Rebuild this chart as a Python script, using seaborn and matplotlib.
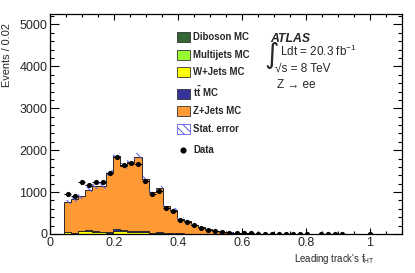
import numpy as np
import pandas as pd
import seaborn as sns
import matplotlib.pyplot as plt
from matplotlib.patches import Patch
from matplotlib.lines import Line2D
from matplotlib.ticker import MultipleLocator, FuncFormatter

# 50 bins over [0, 1.1]; first filled bin is number 2
BIN_WIDTH = 0.022
FIRST_BIN = 2

DATA = [944, 905, 1245, 1159, 1240, 1238, 1464, 1835, 1635, 1700, 1668, 1270,
        948, 1020, 631, 552, 337, 282, 210, 150, 100, 68, 48, 32, 24, 16, 12,
        10, 8, 7, 6, 5, 4, 4, 3, 0, 3, 2, 2, 2, 0, 0, 0, 1]

Z_JETS = [705, 790, 820, 955, 1060, 1095, 1410, 1740, 1545, 1655, 1765, 1255,
          965, 1055, 648, 560, 348, 296, 218, 159, 112, 75, 50, 34, 25, 17, 12,
          9, 7, 5, 4, 3, 2, 2, 1, 1, 1, 1, 1, 1, 1, 0, 0, 0]
TTBAR = [15, 10, 20, 25, 20, 15, 20, 30, 25, 25, 30, 20, 10, 10, 5, 5, 5, 3,
         2, 2, 1, 1, 1, 1, 0, 0, 0, 0, 0, 0, 0, 0, 0, 0, 0, 0, 0, 0, 0, 0, 0,
         0, 0, 0]
W_JETS = [30, 15, 50, 70, 45, 30, 25, 70, 50, 35, 40, 30, 10, 20, 5, 5, 10, 3,
          2, 2, 0, 0, 0, 0, 0, 0, 0, 0, 0, 0, 0, 0, 0, 0, 0, 0, 0, 0, 0, 0, 0,
          0, 0, 0]
MULTIJETS = [5, 5, 5, 5, 5, 5, 5, 5, 5, 5, 5, 5, 5, 5, 2, 2, 2, 1, 1, 1, 0, 0,
             0, 0, 0, 0, 0, 0, 0, 0, 0, 0, 0, 0, 0, 0, 0, 0, 0, 0, 0, 0, 0, 0]
DIBOSON = [5, 5, 5, 5, 5, 5, 5, 5, 5, 5, 5, 5, 5, 5, 5, 3, 3, 2, 2, 1, 1, 1,
           1, 1, 1, 1, 1, 1, 1, 0, 0, 0, 0, 0, 0, 0, 0, 0, 0, 0, 0, 0, 0, 0]
MC_STAT_ERR = [55, 55, 60, 60, 65, 65, 70, 80, 75, 75, 80, 65, 55, 60, 45, 40,
               30, 28, 22, 18, 14, 10, 8, 6, 5, 4, 3, 3, 2, 2, 2, 2, 1, 1, 1,
               1, 1, 1, 1, 1, 1, 0, 0, 0]

PROCESSES = {
    "Diboson MC": DIBOSON,
    "Multijets MC": MULTIJETS,
    "W+Jets MC": W_JETS,
    "t$\\bar{\\mathregular{t}}$ MC": TTBAR,
    "Z+Jets MC": Z_JETS,
}
COLORS = {
    "Diboson MC": "#336633",
    "Multijets MC": "#99ff33",
    "W+Jets MC": "#ffff00",
    "t$\\bar{\\mathregular{t}}$ MC": "#333399",
    "Z+Jets MC": "#ff9933",
}
HATCH_COLOR = "#5c5cf0"

sns.set_style("ticks")
plt.rcParams["font.family"] = ["Liberation Sans", "DejaVu Sans"]
plt.rcParams["mathtext.default"] = "regular"
plt.rcParams["hatch.linewidth"] = 0.7

n_bins = len(DATA)
bin_lo = (FIRST_BIN + np.arange(n_bins)) * BIN_WIDTH
centers = bin_lo + BIN_WIDTH / 2
edges = (FIRST_BIN + np.arange(n_bins + 1)) * BIN_WIDTH

rows = []
for name, vals in PROCESSES.items():
    for c, v in zip(centers, vals):
        rows.append({"process": name, "x": c, "events": v})
mc_df = pd.DataFrame(rows)

fig = plt.figure(figsize=(4.15, 2.73), dpi=100)
ax = fig.add_axes([0.1205, 0.1429, 0.848, 0.8058])

# seaborn puts the first hue level on top of the stack
stack_order = list(PROCESSES.keys())[::-1]
sns.histplot(data=mc_df, x="x", weights="events", hue="process",
             hue_order=stack_order, palette=COLORS, multiple="stack",
             bins=list(edges), element="step", fill=True, alpha=1,
             edgecolor="#2a2a2a", linewidth=0.7, legend=False, ax=ax)

total = np.sum([np.array(v, dtype=float) for v in PROCESSES.values()], axis=0)
err = np.array(MC_STAT_ERR, dtype=float)
ax.fill_between(edges, np.append(total - err, (total - err)[-1]),
                np.append(total + err, (total + err)[-1]), step="post",
                facecolor="none", edgecolor=HATCH_COLOR, hatch="\\\\\\\\",
                linewidth=0, zorder=3)

data = np.array(DATA, dtype=float)
has = data > 0
ax.errorbar(centers[has], data[has], xerr=BIN_WIDTH / 2, yerr=np.sqrt(data[has]),
            fmt="none", ecolor="black", elinewidth=0.8, zorder=4)
sns.scatterplot(x=centers[has], y=data[has], color="black", s=14,
                linewidth=0, ax=ax, zorder=5)

ax.set_xlim(0, 1.1)
ax.set_ylim(0, 5250)
ax.xaxis.set_major_locator(MultipleLocator(0.2))
ax.xaxis.set_minor_locator(MultipleLocator(0.05))
ax.yaxis.set_major_locator(MultipleLocator(1000))
ax.yaxis.set_minor_locator(MultipleLocator(200))
ax.xaxis.set_major_formatter(FuncFormatter(lambda v, p: f"{v:g}"))
ax.tick_params(which="both", direction="in", top=True, right=True,
               labelsize=9, width=0.8, color="black")
ax.tick_params(axis="y", which="major", length=6.5, pad=2)
ax.tick_params(axis="y", which="minor", length=3)
ax.tick_params(axis="x", which="major", length=4.5, pad=2)
ax.tick_params(axis="x", which="minor", length=2.5)
for sp in ax.spines.values():
    sp.set_linewidth(0.9)
    sp.set_color("black")

ax.set_ylabel("Events / 0.02", fontsize=7.9, loc="top")
ax.yaxis.set_label_coords(-0.108, 0.96)
ax.set_xlabel("Leading track's f$_{HT}$", fontsize=6.9, loc="right")
ax.xaxis.set_label_coords(0.923, -0.08)

handles = [Patch(facecolor=COLORS[name], edgecolor="#333333", linewidth=0.6,
                 label=name) for name in PROCESSES]
handles.append(Patch(facecolor="white", edgecolor=HATCH_COLOR, hatch="\\\\\\\\",
                     linewidth=0.6, label="Stat. error"))
leg = ax.legend(handles=handles, loc="upper left", bbox_to_anchor=(0.36, 0.918),
                frameon=False, borderpad=0, borderaxespad=0,
                handlelength=1.35, handleheight=1.24, handletextpad=0.35,
                labelspacing=0.76, prop={"weight": "bold", "size": 6.9})
ax.add_artist(leg)
ax.legend(handles=[Line2D([], [], marker="o", color="black", ls="none",
                          markersize=3.4, label="Data")],
          loc="upper left", bbox_to_anchor=(0.36, 0.405), frameon=False,
          borderpad=0, borderaxespad=0, handlelength=1.35,
          handletextpad=0.35, prop={"weight": "bold", "size": 6.9})

fig.text(270 / 415, 1 - 42 / 273, "ATLAS", fontsize=8.8, weight="bold",
         style="italic", va="baseline")
fig.text(264 / 415, 1 - 55 / 273, "\u222b", fontsize=20, va="center",
         family=["DejaVu Sans"])
fig.text(280 / 415, 1 - 56 / 273, "Ldt = 20.3 fb$^{-1}$", fontsize=8.5,
         va="baseline")
fig.text(275 / 415, 1 - 72 / 273, "\u221as = 8 TeV", fontsize=8.5,
         va="baseline")
fig.text(277 / 415, 1 - 88 / 273, "Z \u2192 ee", fontsize=8.5,
         va="baseline")

fig.savefig("out.png", dpi=100)
